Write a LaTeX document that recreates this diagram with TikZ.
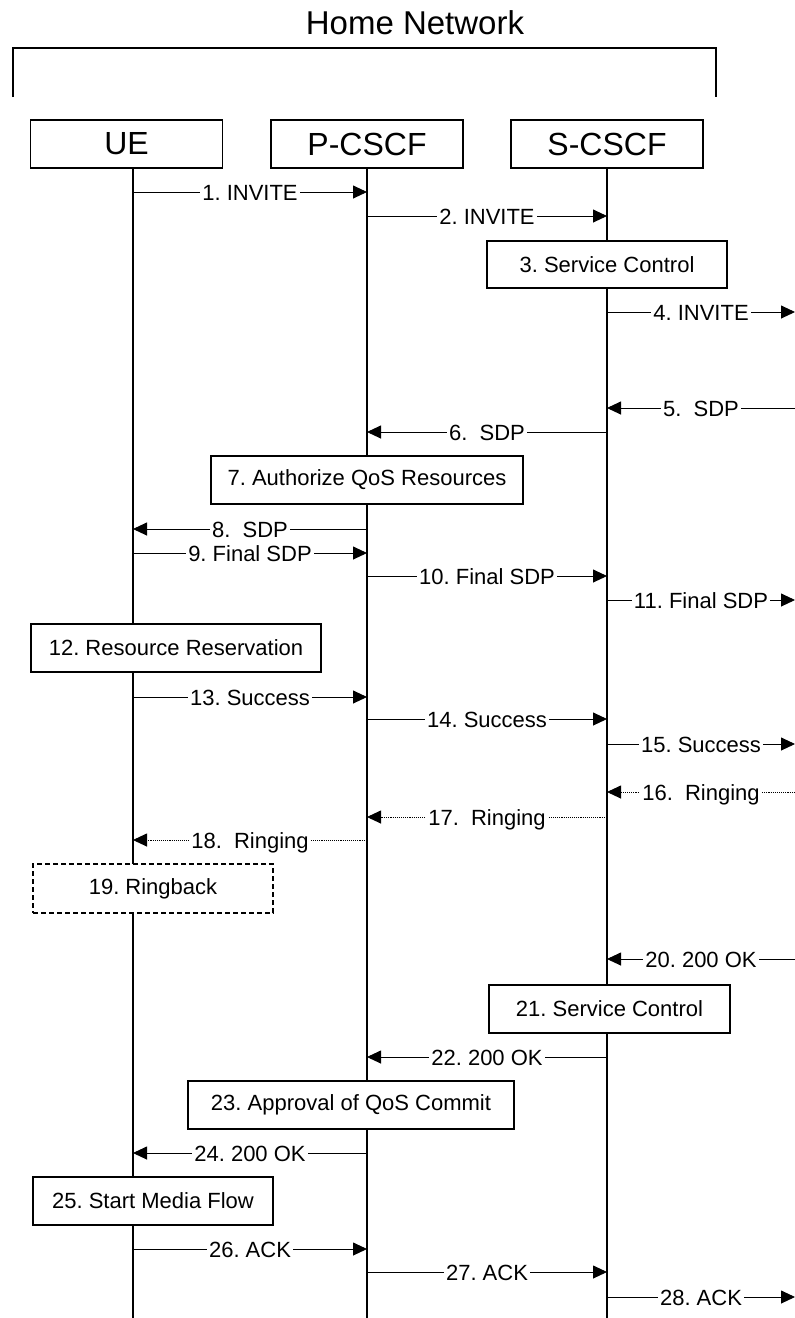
\documentclass[tikz,border=0pt]{standalone}
\usepackage{fontspec}
\setmainfont{Liberation Sans}
\usetikzlibrary{arrows.meta}
\frenchspacing

\begin{document}
\begin{tikzpicture}[x=1pt, y=-1pt,
    msg/.style={line width=0.9pt, -{Triangle[length=14pt, width=13pt]}},
    ring/.style={msg, densely dotted},
    lbl/.style={fill=white, inner xsep=2pt, inner ysep=0pt, text height=16pt, text depth=0pt, font=\fontsize{22}{26}\selectfont},
    head/.style={draw, line width=1.2pt, fill=white, minimum width=192pt, minimum height=48pt, font=\fontsize{32}{38}\selectfont},
    act/.style={draw, line width=1.2pt, fill=white, minimum height=48pt, font=\fontsize{22}{26}\selectfont},
    life/.style={line width=1.4pt}]
    \useasboundingbox (0,0) rectangle (795,1318);

    \node [font=\fontsize{33}{40}\selectfont] (title) at (415,23) {Home Network};
    \draw [line width=1.2pt] (13,97) |- (716,48) -- (716,97);

    \coordinate (ue-l) at (133,168);
    \coordinate (pc-l) at (367,168);
    \coordinate (sc-l) at (607,168);
    \coordinate (edge) at (795,0);
    \coordinate (floor) at (0,1318);

    \draw [life] (ue-l) -- (ue-l |- floor);
    \draw [life] (pc-l) -- (pc-l |- floor);
    \draw [life] (sc-l) -- (sc-l |- floor);

    \node [head] (ue) at (126.5,144) {UE};
    \node [head] (pcscf) at (367,144) {P-CSCF};
    \node [head] (scscf) at (607,144) {S-CSCF};

    \node [act, minimum width=240pt, minimum height=47pt] (svc1) at (607,264.5) {3. Service Control};
    \node [act, minimum width=312pt] (qos) at (367,480) {7. Authorize QoS Resources};
    \node [act, minimum width=290pt] (resv) at (176,648) {12. Resource Reservation};
    \node [act, minimum width=240pt, minimum height=49pt, dash pattern=on 5pt off 3pt] (ringback) at (153,888.5) {19. Ringback};
    \node [act, minimum width=241pt] (svc2) at (609.5,1009) {21. Service Control};
    \node [act, minimum width=326pt] (commit) at (351,1105) {23. Approval of QoS Commit};
    \node [act, minimum width=240pt] (media) at (153,1201) {25. Start Media Flow};

    \draw [msg] (ue-l |- 0,192) -- node [lbl] {1. INVITE} (pc-l |- 0,192);
    \draw [msg] (pc-l |- 0,216) -- node [lbl] {2. INVITE} (sc-l |- 0,216);
    \draw [msg] (sc-l |- 0,312) -- node [lbl] {4. INVITE} (edge |- 0,312);
    \draw [msg] (edge |- 0,408) -- node [lbl] {5.\ \ SDP} (sc-l |- 0,408);
    \draw [msg] (sc-l |- 0,432) -- node [lbl] {6.\ \ SDP} (pc-l |- 0,432);
    \draw [msg] (pc-l |- 0,529) -- node [lbl] {8.\ \ SDP} (ue-l |- 0,529);
    \draw [msg] (ue-l |- 0,553) -- node [lbl] {9. Final SDP} (pc-l |- 0,553);
    \draw [msg] (pc-l |- 0,576) -- node [lbl] {10. Final SDP} (sc-l |- 0,576);
    \draw [msg] (sc-l |- 0,600) -- node [lbl] {11. Final SDP} (edge |- 0,600);
    \draw [msg] (ue-l |- 0,697) -- node [lbl] {13. Success} (pc-l |- 0,697);
    \draw [msg] (pc-l |- 0,719) -- node [lbl] {14. Success} (sc-l |- 0,719);
    \draw [msg] (sc-l |- 0,744) -- node [lbl] {15. Success} (edge |- 0,744);
    \draw [ring] (edge |- 0,792) -- node [lbl] {16.\ \ Ringing} (sc-l |- 0,792);
    \draw [ring] (sc-l |- 0,817) -- node [lbl] {17.\ \ Ringing} (pc-l |- 0,817);
    \draw [ring] (pc-l |- 0,840) -- node [lbl] {18.\ \ Ringing} (ue-l |- 0,840);
    \draw [msg] (edge |- 0,959) -- node [lbl] {20. 200 OK} (sc-l |- 0,959);
    \draw [msg] (sc-l |- 0,1057) -- node [lbl] {22. 200 OK} (pc-l |- 0,1057);
    \draw [msg] (pc-l |- 0,1153) -- node [lbl] {24. 200 OK} (ue-l |- 0,1153);
    \draw [msg] (ue-l |- 0,1249) -- node [lbl] {26. ACK} (pc-l |- 0,1249);
    \draw [msg] (pc-l |- 0,1272) -- node [lbl] {27. ACK} (sc-l |- 0,1272);
    \draw [msg] (sc-l |- 0,1297) -- node [lbl] {28. ACK} (edge |- 0,1297);
\end{tikzpicture}
\end{document}
